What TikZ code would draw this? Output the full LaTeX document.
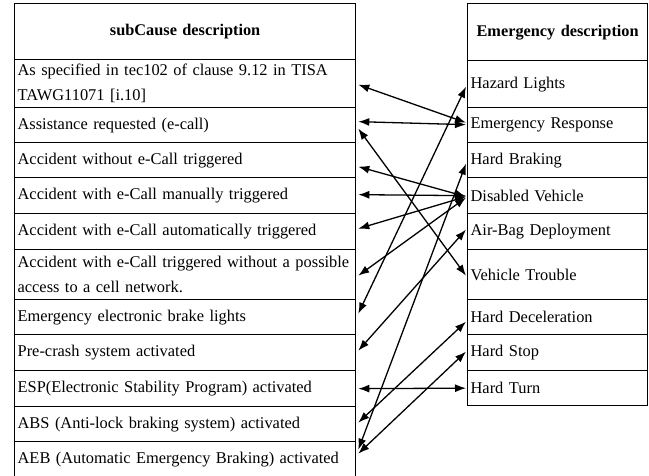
\documentclass[tikz,border=0pt]{standalone}
\usepackage{fontspec}
\setmainfont{Liberation Serif}
\usetikzlibrary{arrows.meta}
\newcommand\cellfont{\fontsize{16.4}{25}\selectfont\hyphenpenalty=10000\exhyphenpenalty=10000}
\newcommand\headfont{\fontsize{16.3}{20}\selectfont\bfseries}
\tikzset{
  cell/.style={draw,line width=1.3pt,anchor=north west,inner xsep=3pt,inner ysep=0pt,align=left,font=\cellfont},
  lcell/.style={cell,text width=335pt},
  rcell/.style={cell,text width=174pt},
  headcell/.style={align=center,font=\headfont},
  link/.style={{Latex[length=11pt,width=8pt]}-{Latex[length=11pt,width=8pt]},line width=1.3pt}
}
\begin{document}
\begin{tikzpicture}[x=1pt,y=-1pt]
\useasboundingbox (0,0) rectangle (649,475);
%\draw [help lines,step=50] (0,0) grid (649,475);
% left table
\node [lcell,headcell,minimum height=56pt] (lhead) at (14,3) {subCause description};
\foreach \n/\yy/\hh/\txt in {
  1/59/48/{As specified in tec102 of clause 9.12 in TISA\\TAWG11071 [i.10]},
  2/107/35/{Assistance requested (e-call)},
  3/142/35/{Accident without e-Call triggered},
  4/177/36/{Accident with e-Call manually triggered},
  5/213/36/{Accident with e-Call automatically triggered},
  6/249/50/{Accident with e-Call triggered without a possible\\access to a cell network.},
  7/299/35/{Emergency electronic brake lights},
  8/334/36/{Pre-crash system activated},
  9/370/36/{ESP(Electronic Stability Program) activated},
  10/406/35/{ABS (Anti-lock braking system) activated},
  11/441/36/{AEB (Automatic Emergency Braking) activated}}
  \node [lcell,minimum height=\hh pt] (l\n) at (14,\yy) {\txt};
% right table
\node [rcell,headcell,minimum height=57pt] (rhead) at (467,3) {Emergency description};
\foreach \n/\yy/\hh/\txt in {
  1/60/47/{Hazard Lights},
  2/107/35/{Emergency Response},
  3/142/35/{Hard Braking},
  4/177/36/{Disabled Vehicle},
  5/213/36/{Air-Bag Deployment},
  6/249/50/{Vehicle Trouble},
  7/299/35/{Hard Deceleration},
  8/334/36/{Hard Stop},
  9/370/35/{Hard Turn}}
  \node [rcell,minimum height=\hh pt] (r\n) at (467,\yy) {\txt};
% links
\draw [link] ([xshift=2pt,yshift=-1pt]l1.east) -- ([xshift=-1pt,yshift=2.5pt]r2.west);
\draw [link] ([xshift=2pt,yshift=3.5pt]l2.east) -- ([xshift=-1pt,yshift=0.5pt]r2.west);
\draw [link] ([xshift=2pt,yshift=-3.5pt]l2.east) -- ([xshift=-1pt,yshift=-1pt]r6.west);
\draw [link] ([xshift=2pt,yshift=-6.5pt]l3.east) -- ([xshift=-1pt,yshift=-1pt]r4.west);
\draw [link] ([xshift=2pt,yshift=1pt]l4.east) -- ([xshift=-1pt]r4.west);
\draw [link] ([xshift=2pt,yshift=3pt]l5.east) -- ([xshift=-1pt,yshift=-1pt]r4.west);
\draw [link] ([xshift=2pt,yshift=-1pt]l6.east) -- ([xshift=-1pt,yshift=-2pt]r4.west);
\draw [link] ([xshift=2pt,yshift=3.5pt]l7.east) -- ([xshift=-1pt,yshift=-2.5pt]r1.west);
\draw [link] ([xshift=2pt,yshift=2pt]l8.east) -- ([xshift=-1pt,yshift=2pt]r5.west);
\draw [link] ([xshift=2pt]l9.east) -- ([xshift=-1pt]r9.west);
\draw [link] ([xshift=2pt,yshift=1.5pt]l10.east) -- ([xshift=-1pt,yshift=-4.5pt]r7.west);
\draw [link] ([xshift=2pt,yshift=6pt]l11.east) -- ([xshift=-1pt,yshift=1pt]r8.west);
\draw [link] ([xshift=2pt,yshift=10pt]l11.east) -- ([xshift=-1pt,yshift=-3.5pt]r3.west);
\end{tikzpicture}
\end{document}
